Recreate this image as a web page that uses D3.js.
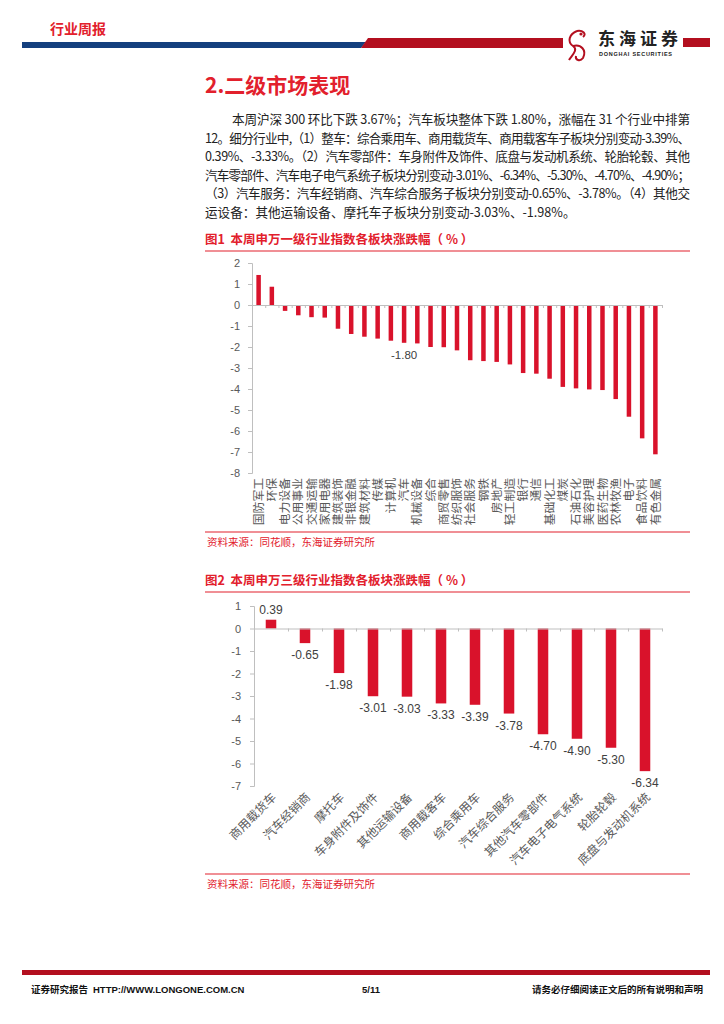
<!DOCTYPE html>
<html>
<head>
<meta charset="utf-8">
<script src="https://cdn.jsdelivr.net/npm/d3@7"></script>
<style>
    body { margin: 0; background: #fff; }
    svg { display: block; }
    text { font-family: "Noto Sans CJK SC", "Liberation Sans", sans-serif; }
    .num { font-family: "Liberation Sans", Arial, sans-serif; }
</style>
</head>
<body>
<script>
// ———————— 数据 ———————— //
// 图1：申万一级行业
var cat1 = ["国防军工", "环保", "电力设备", "公用事业", "交通运输", "家用电器", "建筑装饰",
    "非银金融", "建筑材料", "传媒", "计算机", "汽车", "机械设备", "综合", "商贸零售",
    "纺织服饰", "社会服务", "钢铁", "房地产", "轻工制造", "银行", "通信", "基础化工",
    "煤炭", "石油石化", "美容护理", "医药生物", "农林牧渔", "电子", "食品饮料", "有色金属"];
var val1 = [1.43, 0.87, -0.28, -0.49, -0.58, -0.60, -1.13, -1.38, -1.51, -1.60, -1.70,
    -1.80, -1.83, -2.00, -2.01, -2.16, -2.63, -2.67, -2.71, -2.83, -3.24, -3.27, -3.51,
    -3.90, -3.97, -4.02, -4.05, -4.48, -5.32, -6.35, -7.11];
var ticks1 = [2, 1, 0, -1, -2, -3, -4, -5, -6, -7, -8];
var labeled1 = "汽车";

// 图2：申万三级行业
var cat2 = ["商用载货车", "汽车经销商", "摩托车", "车身附件及饰件", "其他运输设备", "商用载客车",
    "综合乘用车", "汽车综合服务", "其他汽车零部件", "汽车电子电气系统", "轮胎轮毂", "底盘与发动机系统"];
var val2 = [0.39, -0.65, -1.98, -3.01, -3.03, -3.33, -3.39, -3.78, -4.70, -4.90, -5.30, -6.34];
var ticks2 = [1, 0, -1, -2, -3, -4, -5, -6, -7];

// 正文
var paraLines = [
    "本周沪深 300 环比下跌 3.67%；汽车板块整体下跌 1.80%，涨幅在 31 个行业中排第",
    "12。细分行业中,（1）整车：综合乘用车、商用载货车、商用载客车子板块分别变动-3.39%、",
    "0.39%、-3.33%。（2）汽车零部件：车身附件及饰件、底盘与发动机系统、轮胎轮毂、其他",
    "汽车零部件、汽车电子电气系统子板块分别变动-3.01%、-6.34%、-5.30%、-4.70%、-4.90%；",
    "（3）汽车服务：汽车经销商、汽车综合服务子板块分别变动-0.65%、-3.78%。（4）其他交",
    "运设备：其他运输设备、摩托车子板块分别变动-3.03%、-1.98%。"
];

var red = "#d9122b",
    titleRed = "#e2202c",
    darkRed = "#b30f1f",
    axisGray = "#bfbfbf",
    textGray = "#595959";

// 负号用普通连字符
var fmt2 = function (d) { return d.toFixed(2); };
var fmt0 = function (d) { return String(d); };

var svg = d3.select("body").append("svg")
    .attr("width", 724)
    .attr("height", 1024);

// ———————— 页眉 ———————— //
svg.append("text")
    .attr("x", 50).attr("y", 34)
    .attr("font-size", "14px")
    .style("font-weight", "bold")
    .attr("fill", titleRed)
    .text("行业周报");

svg.append("polygon")
    .attr("points", "22,42 366,42 361,48 22,48")
    .attr("fill", "#143f7e");
svg.append("polygon")
    .attr("points", "361,48 368,38 563,38 563,48")
    .attr("fill", darkRed);
svg.append("rect")
    .attr("x", 683).attr("y", 38).attr("width", 27).attr("height", 9)
    .attr("fill", darkRed);

// 简单画一个logo
var logo = svg.append("g").attr("transform", "translate(567,28)");
logo.append("path")
    .attr("d", "M10,3 C2,6 0,14 6,18 C12,22 4,28 2,32 M10,3 C16,2 20,6 16,9 M6,18 C14,16 20,22 16,30 C13,34 8,32 9,28")
    .attr("fill", "none")
    .attr("stroke", darkRed)
    .attr("stroke-width", 2);
logo.append("circle").attr("cx", 14).attr("cy", 6).attr("r", 1.6).attr("fill", darkRed);

svg.append("text")
    .attr("x", 598).attr("y", 45)
    .attr("font-size", "17px")
    .style("font-weight", "bold")
    .attr("fill", "#222")
    .attr("textLength", 80)
    .text("东海证券");
svg.append("text")
    .attr("class", "num")
    .attr("x", 599).attr("y", 56)
    .attr("font-size", "5.5px")
    .style("font-weight", "bold")
    .attr("fill", "#222")
    .attr("textLength", 73)
    .text("DONGHAI SECURITIES");

// ———————— 标题与正文 ———————— //
svg.append("text")
    .attr("x", 205).attr("y", 93)
    .attr("font-size", "21px")
    .style("font-weight", "bold")
    .attr("fill", titleRed)
    .text("2.二级市场表现");

svg.selectAll(".para")
    .data(paraLines)
    .enter()
    .append("text")
    .attr("class", "para")
    .attr("x", function (d, i) { return i == 0 ? 232 : 205; })
    .attr("y", function (d, i) { return 124 + i * 18.6; })
    .attr("font-size", "12.6px")
    .attr("fill", "#222")
    .each(function (d, i) {
        if (i < paraLines.length - 1) {
            d3.select(this)
                .attr("textLength", i == 0 ? 458 : 485)
                .attr("lengthAdjust", "spacing");
        }
    })
    .text(function (d) { return d; });

// 图标题 + 下划线
function chartTitle(txt, y) {
    svg.append("text")
        .attr("x", 205).attr("y", y)
        .attr("font-size", "12.5px")
        .style("font-weight", "bold")
        .attr("fill", titleRed)
        .attr("xml:space", "preserve")
        .text(txt);
    svg.append("line")
        .attr("x1", 205).attr("x2", 690)
        .attr("y1", y + 7).attr("y2", y + 7)
        .attr("stroke", titleRed)
        .attr("stroke-width", 1.2);
}

function sourceNote(y) {
    svg.append("line")
        .attr("x1", 205).attr("x2", 690)
        .attr("y1", y).attr("y2", y)
        .attr("stroke", titleRed)
        .attr("stroke-width", 1.2);
    svg.append("text")
        .attr("x", 207).attr("y", y + 14)
        .attr("font-size", "10.5px")
        .attr("fill", titleRed)
        .text("资料来源：同花顺，东海证券研究所");
}

function styleAxis(g) {
    g.select(".domain").attr("stroke", axisGray);
    g.selectAll(".tick line").attr("stroke", axisGray);
    g.selectAll(".tick text")
        .attr("class", "num")
        .attr("fill", textGray)
        .attr("font-size", "11px");
}

// ———————— 图1 ———————— //
chartTitle("图1  本周申万一级行业指数各板块涨跌幅（ % ）", 244);

var x1 = d3.scaleBand()
    .domain(cat1)
    .range([252, 662])
    .paddingInner(0.66)
    .paddingOuter(0.33);
var y1 = d3.scaleLinear()
    .domain([-8, 2])
    .range([473, 263]);
var idx1 = d3.scaleLinear()
    .domain([0, cat1.length])
    .range([252, 662]);

var g1 = svg.append("g");

// y轴
g1.append("g")
    .attr("transform", "translate(252,0)")
    .call(d3.axisLeft(y1).tickValues(ticks1).tickSize(4).tickPadding(8).tickFormat(fmt0))
    .call(styleAxis);

// 柱子
g1.append("g").selectAll("rect")
    .data(val1)
    .enter()
    .append("rect")
    .attr("x", function (d, i) { return x1(cat1[i]); })
    .attr("width", x1.bandwidth())
    .attr("y", function (d) { return Math.min(y1(d), y1(0)); })
    .attr("height", function (d) { return Math.abs(y1(d) - y1(0)); })
    .attr("fill", red);

// x轴（0线）
g1.append("g")
    .attr("transform", "translate(0," + y1(0) + ")")
    .call(d3.axisBottom(idx1).tickValues(d3.range(cat1.length + 1)).tickSize(3).tickSizeOuter(0).tickFormat(""))
    .call(styleAxis);

// 汽车数值标签
g1.append("text")
    .attr("class", "num")
    .attr("x", x1(labeled1) + x1.bandwidth() / 2)
    .attr("y", y1(val1[cat1.indexOf(labeled1)]) + 16)
    .attr("text-anchor", "middle")
    .attr("font-size", "11.5px")
    .attr("fill", "#404040")
    .text(fmt2(val1[cat1.indexOf(labeled1)]));

// 类别标签（竖排）
g1.append("g").selectAll("text")
    .data(cat1)
    .enter()
    .append("text")
    .attr("transform", function (d) {
        return "translate(" + (x1(d) + x1.bandwidth() / 2) + ",478) rotate(-90)";
    })
    .attr("dy", "0.35em")
    .attr("text-anchor", "end")
    .attr("font-size", "11.8px")
    .attr("fill", textGray)
    .text(function (d) { return d; });

sourceNote(532);

// ———————— 图2 ———————— //
chartTitle("图2  本周申万三级行业指数各板块涨跌幅（ % ）", 585);

var x2 = d3.scaleBand()
    .domain(cat2)
    .range([254, 662])
    .paddingInner(0.69)
    .paddingOuter(0.345);
var y2 = d3.scaleLinear()
    .domain([-7, 1])
    .range([786, 606]);
var idx2 = d3.scaleLinear()
    .domain([0, cat2.length])
    .range([254, 662]);

var g2 = svg.append("g");

g2.append("g")
    .attr("transform", "translate(254,0)")
    .call(d3.axisLeft(y2).tickValues(ticks2).tickSize(4).tickPadding(9).tickFormat(fmt0))
    .call(styleAxis);

g2.append("g").selectAll("rect")
    .data(val2)
    .enter()
    .append("rect")
    .attr("x", function (d, i) { return x2(cat2[i]); })
    .attr("width", x2.bandwidth())
    .attr("y", function (d) { return Math.min(y2(d), y2(0)); })
    .attr("height", function (d) { return Math.abs(y2(d) - y2(0)); })
    .attr("fill", red);

g2.append("g")
    .attr("transform", "translate(0," + y2(0) + ")")
    .call(d3.axisBottom(idx2).tickValues(d3.range(cat2.length + 1)).tickSize(3).tickSizeOuter(0).tickFormat(""))
    .call(styleAxis);

// 数值标签
g2.append("g").selectAll("text")
    .data(val2)
    .enter()
    .append("text")
    .attr("class", "num")
    .attr("x", function (d, i) { return x2(cat2[i]) + x2.bandwidth() / 2; })
    .attr("y", function (d) { return d >= 0 ? y2(d) - 6 : y2(d) + 16; })
    .attr("text-anchor", "middle")
    .attr("font-size", "12px")
    .attr("fill", "#404040")
    .text(function (d) { return fmt2(d); });

// 类别标签（45度）
g2.append("g").selectAll("text")
    .data(cat2)
    .enter()
    .append("text")
    .attr("transform", function (d) {
        return "translate(" + (x2(d) + x2.bandwidth() / 2 + 3) + ",795) rotate(-45)";
    })
    .attr("dy", "0.35em")
    .attr("text-anchor", "end")
    .attr("font-size", "12px")
    .attr("fill", textGray)
    .text(function (d) { return d; });

sourceNote(874);

// ———————— 页脚 ———————— //
svg.append("rect")
    .attr("x", 22).attr("y", 970).attr("width", 688).attr("height", 5)
    .attr("fill", darkRed);
svg.append("text")
    .attr("x", 31).attr("y", 993)
    .attr("font-size", "9.5px")
    .style("font-weight", "bold")
    .attr("fill", "#111")
    .text("证券研究报告");
svg.append("text")
    .attr("class", "num")
    .attr("x", 93).attr("y", 993)
    .attr("font-size", "9.5px")
    .style("font-weight", "bold")
    .attr("fill", "#111")
    .text("HTTP://WWW.LONGONE.COM.CN");
svg.append("text")
    .attr("class", "num")
    .attr("x", 362).attr("y", 993)
    .attr("font-size", "9.5px")
    .style("font-weight", "bold")
    .attr("fill", "#111")
    .text("5/11");
svg.append("text")
    .attr("x", 703).attr("y", 993)
    .attr("text-anchor", "end")
    .attr("font-size", "9.5px")
    .style("font-weight", "bold")
    .attr("fill", "#111")
    .text("请务必仔细阅读正文后的所有说明和声明");
</script>
</body>
</html>
